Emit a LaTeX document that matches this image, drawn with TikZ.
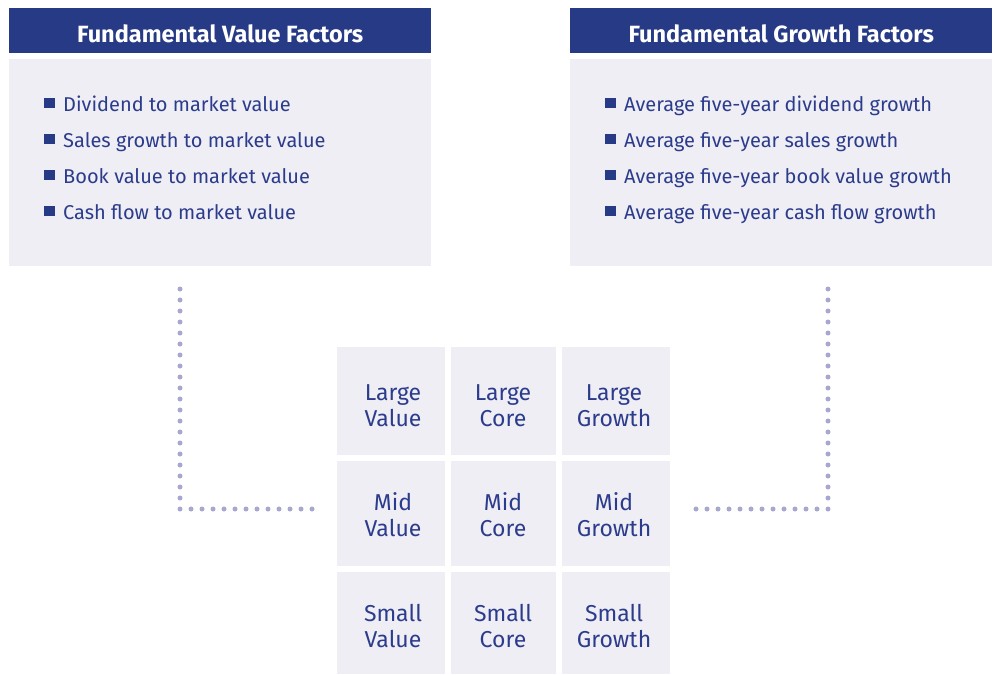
\documentclass[tikz,border=0pt]{standalone}
\usepackage{fontspec}
\setmainfont{Fira Sans}
\begin{document}
\begin{tikzpicture}[x=1pt,y=-1pt,
  hdr/.style={fill=navy, anchor=north west, inner sep=0pt,
    minimum width=422pt, minimum height=45pt},
  hdrtext/.style={anchor=base, inner sep=0pt, text=white, yshift=11pt,
    font=\fontsize{23.5}{28}\selectfont\bfseries},
  panel/.style={fill=panelbg, anchor=north west, inner sep=0pt,
    minimum width=422pt, minimum height=207pt},
  item/.style={anchor=base west, inner sep=0pt, text=ink, font=\fontsize{20}{24}\selectfont},
  cell/.style={fill=panelbg, anchor=north west, inner sep=0pt},
  celltext/.style={anchor=base, inner sep=0pt, text=ink, font=\fontsize{23}{26}\selectfont},
  dotline/.style={draw=dotc, line width=5pt, line cap=round, dash pattern=on 0pt off 11pt}
]
\definecolor{navy}{HTML}{263A86}
\definecolor{panelbg}{HTML}{EFEEF4}
\definecolor{ink}{HTML}{2C3C8C}
\definecolor{dotc}{HTML}{A7A7D0}
\newcommand{\sqbullet}{\textcolor{navy}{\rule[3pt]{11pt}{10pt}}\hspace{8pt}}
\newcommand{\twolines}[2]{\begin{tabular}[t]{@{}c@{}}#1\\#2\end{tabular}}

\useasboundingbox (0,0) rectangle (1000,674);

% value factors panel
\node[hdr] (vh) at (9,8) {};
\node[hdrtext] (vht) at (vh.south) {Fundamental Value Factors};
\node[panel] (vb) at (9,59) {};
\node[item] (v1) at (44,111) {\sqbullet Dividend to market value};
\node[item] (v2) at (44,147) {\sqbullet Sales growth to market value};
\node[item] (v3) at (44,183) {\sqbullet Book value to market value};
\node[item] (v4) at (44,219) {\sqbullet Cash flow to market value};

% growth factors panel
\node[hdr] (gh) at (570,8) {};
\node[hdrtext] (ght) at (gh.south) {Fundamental Growth Factors};
\node[panel] (gb) at (570,59) {};
\node[item] (g1) at (605,111) {\sqbullet Average five-year dividend growth};
\node[item] (g2) at (605,147) {\sqbullet Average five-year sales growth};
\node[item] (g3) at (605,183) {\sqbullet Average five-year book value growth};
\node[item] (g4) at (605,219) {\sqbullet Average five-year cash flow growth};

% style box grid
\node[cell, minimum width=108pt, minimum height=108pt] (lv) at (337,347) {};
\node[cell, minimum width=105pt, minimum height=108pt] (lc) at (451,347) {};
\node[cell, minimum width=108pt, minimum height=108pt] (lg) at (562,347) {};
\node[cell, minimum width=108pt, minimum height=105pt] (mv) at (337,461) {};
\node[cell, minimum width=105pt, minimum height=105pt] (mc) at (451,461) {};
\node[cell, minimum width=108pt, minimum height=105pt] (mg) at (562,461) {};
\node[cell, minimum width=108pt, minimum height=102pt] (sv) at (337,572) {};
\node[cell, minimum width=105pt, minimum height=102pt] (sc) at (451,572) {};
\node[cell, minimum width=108pt, minimum height=102pt] (sg) at (562,572) {};

\node[celltext] (lvt) at (393,400) {\twolines{Large}{Value}};
\node[celltext] (lct) at (503,400) {\twolines{Large}{Core}};
\node[celltext] (lgt) at (614,400) {\twolines{Large}{Growth}};
\node[celltext] (mvt) at (393,510) {\twolines{Mid}{Value}};
\node[celltext] (mct) at (503,510) {\twolines{Mid}{Core}};
\node[celltext] (mgt) at (614,510) {\twolines{Mid}{Growth}};
\node[celltext] (svt) at (393,621) {\twolines{Small}{Value}};
\node[celltext] (sct) at (503,621) {\twolines{Small}{Core}};
\node[celltext] (sgt) at (614,621) {\twolines{Small}{Growth}};

% dotted leaders from the panels toward the grid
\coordinate (vtop) at (180,289);
\coordinate (vend) at (312.5,509);
\coordinate (gtop) at (828,289);
\coordinate (gend) at (695.5,509);
\draw[dotline] (vtop) |- (vend);
\draw[dotline] (gtop) |- (gend);
\end{tikzpicture}
\end{document}
